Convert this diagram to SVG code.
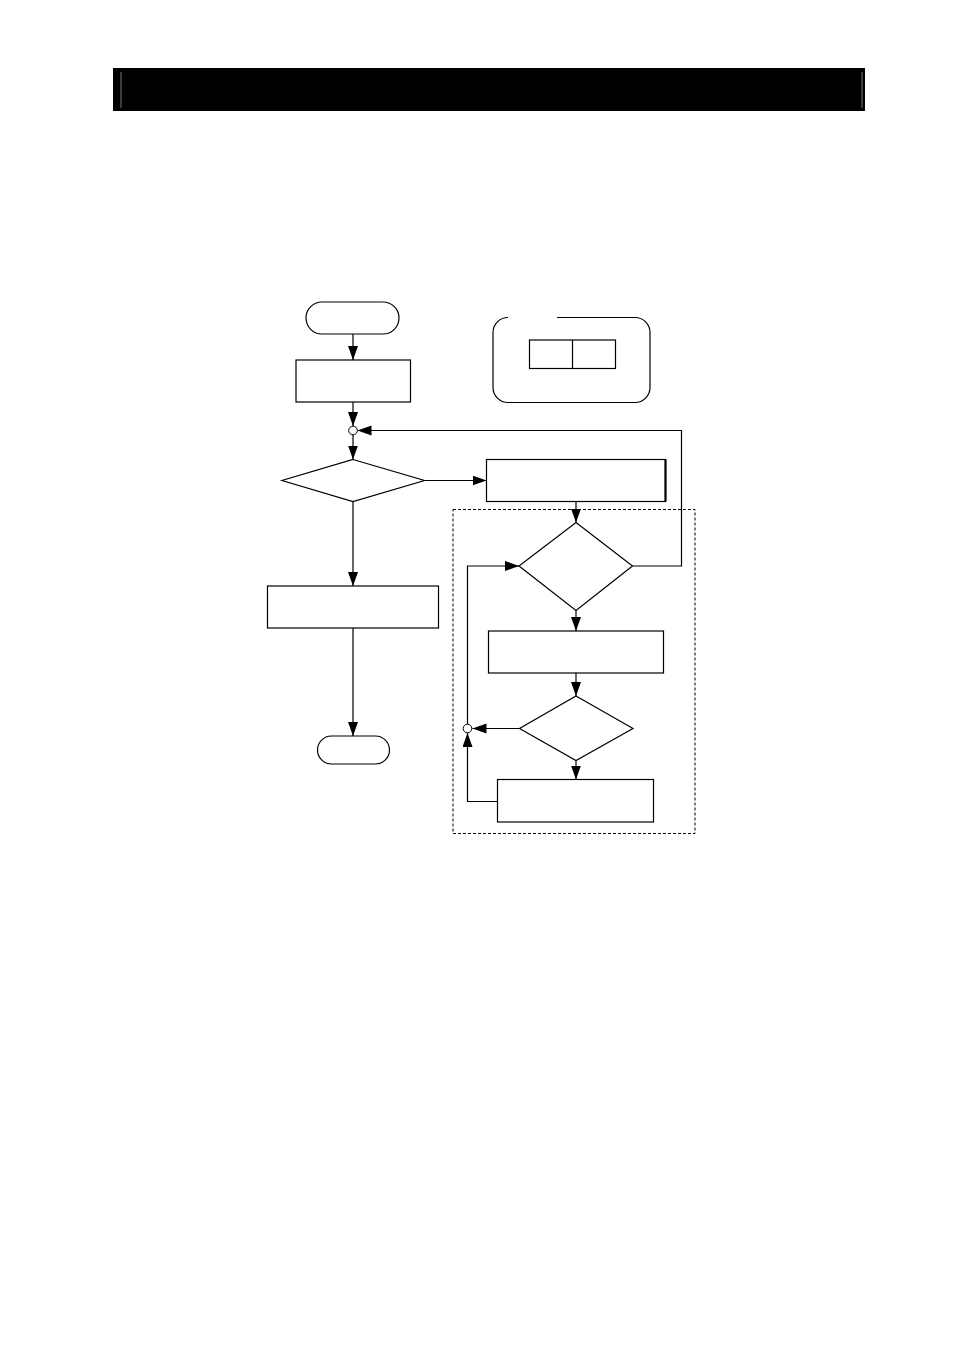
<svg xmlns="http://www.w3.org/2000/svg" width="954" height="1351" viewBox="0 0 954 1351">
<defs>
<marker id="ah" markerUnits="userSpaceOnUse" markerWidth="15" markerHeight="11" refX="14" refY="5" orient="auto">
<path d="M0,0 L14,5 L0,10 z" fill="#000"/>
</marker>
<style>
.s{fill:#fff;stroke:#000;stroke-width:1.2}
.c{fill:none;stroke:#000;stroke-width:1.2}
.j{fill:#fff;stroke:#000;stroke-width:1}
</style>
</defs>
<rect width="954" height="1351" fill="#fff"/>
<g id="header">
<rect x="113" y="68" width="752" height="43" fill="#000"/>
<line x1="121" y1="72" x2="121" y2="108" stroke="#777" stroke-width="1"/>
<line x1="862" y1="72" x2="862" y2="108" stroke="#777" stroke-width="1"/>
</g>
<g id="legend">
<path d="M557,317.5 H635 A15,15 0 0 1 650,332.5 V387.5 A15,15 0 0 1 635,402.5 H508 A15,15 0 0 1 493,387.5 V332.5 A15,15 0 0 1 508,317.5" class="c" stroke="#333"/>
<rect x="529.5" y="340" width="86" height="28.5" class="s"/>
<line x1="572.5" y1="340" x2="572.5" y2="368.5" class="c"/>
</g>
<g id="dashed-group">
<rect x="453" y="509.5" width="242" height="324" fill="none" stroke="#000" stroke-width="1" stroke-dasharray="3,2"/>
</g>
<g id="connectors">
<line x1="353" y1="334" x2="353" y2="360" class="c" marker-end="url(#ah)"/>
<line x1="353" y1="402" x2="353" y2="426" class="c" marker-end="url(#ah)"/>
<line x1="353" y1="435" x2="353" y2="459.5" class="c" marker-end="url(#ah)"/>
<polyline points="632.5,566 681.5,566 681.5,430.5 357.5,430.5" class="c" marker-end="url(#ah)"/>
<line x1="424.5" y1="480.5" x2="486.5" y2="480.5" class="c" marker-end="url(#ah)"/>
<line x1="353" y1="501.5" x2="353" y2="586" class="c" marker-end="url(#ah)"/>
<line x1="353" y1="628" x2="353" y2="736" class="c" marker-end="url(#ah)"/>
<line x1="576" y1="501.5" x2="576" y2="522.5" class="c" marker-end="url(#ah)"/>
<line x1="576" y1="610.5" x2="576" y2="631" class="c" marker-end="url(#ah)"/>
<line x1="576" y1="673" x2="576" y2="696" class="c" marker-end="url(#ah)"/>
<line x1="576" y1="760.5" x2="576" y2="779.5" class="c" marker-end="url(#ah)"/>
<line x1="519.5" y1="728.5" x2="472.5" y2="728.5" class="c" marker-end="url(#ah)"/>
<polyline points="497.5,801.5 467.5,801.5 467.5,733" class="c" marker-end="url(#ah)"/>
<polyline points="467.5,724 467.5,566 519,566" class="c" marker-end="url(#ah)"/>
</g>
<g id="start"><rect x="306" y="302" width="93" height="32" rx="16" class="s"/></g>
<g id="process1"><rect x="296" y="360" width="114.5" height="42" class="s"/></g>
<g id="junction1"><circle cx="353" cy="430.5" r="4.3" class="j"/></g>
<g id="decision1"><polygon points="353,459.5 424.5,480.5 353,501.5 282,480.5" class="s"/></g>
<g id="process2"><rect x="486.5" y="459.5" width="179" height="42" class="s"/><line x1="665.5" y1="459.5" x2="665.5" y2="501.5" stroke="#000" stroke-width="2.2"/></g>
<g id="decision2"><polygon points="576,522.5 632.5,566 576,610.5 519,566" class="s"/></g>
<g id="process3"><rect x="488.5" y="631" width="175" height="42" class="s"/></g>
<g id="decision3"><polygon points="576,696 633,728.5 576,760.5 519.5,728.5" class="s"/></g>
<g id="junction2"><circle cx="467.5" cy="728.5" r="4.3" class="j"/></g>
<g id="process4"><rect x="497.5" y="779.5" width="156" height="42.5" class="s"/></g>
<g id="process5"><rect x="267.5" y="586" width="171" height="42" class="s"/></g>
<g id="end"><rect x="317.5" y="736" width="72" height="28" rx="14" class="s"/></g>
</svg>
